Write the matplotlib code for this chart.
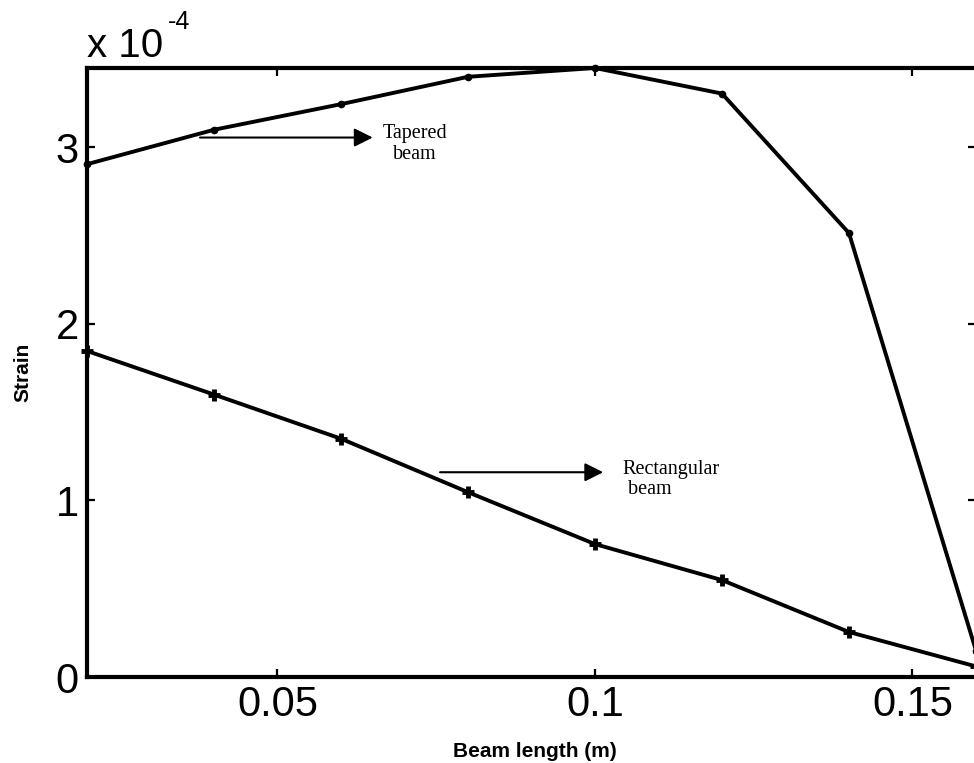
import numpy as np
import matplotlib
matplotlib.use('Agg')
from matplotlib import pyplot as plt

# beam positions (m)
beam_length = [0.02, 0.04, 0.06, 0.08, 0.10, 0.12, 0.14, 0.16]
# strain values in units of 1e-4
tapered = [2.905, 3.10, 3.245, 3.40, 3.45, 3.305, 2.515, 0.15]
rectangular = [1.847, 1.60, 1.35, 1.047, 0.753, 0.549, 0.255, 0.06]

xticks = [0.05, 0.1, 0.15]
xtick_labels = ['0.05', '0.1', '0.15']
yticks = [0, 1, 2, 3]

sans = 'Liberation Sans'
serif = 'Liberation Serif'

fig = plt.figure(figsize=(9.74, 7.63), dpi=100)
ax = fig.add_axes([0.0893, 0.1127, 0.9127, 0.7982])

ax.plot(beam_length, tapered, color='k', lw=2.8, marker='o', ms=4.5,
        clip_on=False)
ax.plot(beam_length, rectangular, color='k', lw=2.8, marker='+', ms=9,
        mew=3.5, clip_on=False)

ax.set_xlim(0.02, 0.16)
ax.set_ylim(0, 3.45)
ax.set_xticks(xticks)
ax.set_xticklabels(xtick_labels)
ax.set_yticks(yticks)

for s in ax.spines.values():
    s.set_linewidth(3)
ax.tick_params(direction='in', length=6, width=1.6, top=True, right=True,
               labelsize=30, pad=6)
for lab in ax.get_xticklabels() + ax.get_yticklabels():
    lab.set_fontfamily(sans)

# axis labels
ax.set_xlabel('Beam length (m)', fontsize=15, fontweight='bold', family=sans)
ax.xaxis.set_label_coords(0.504, -0.1215)
ax.xaxis.label.set_va('center')
ax.set_ylabel('Strain', fontsize=15, fontweight='bold', family=sans)
ax.yaxis.set_label_coords(-0.072, 0.5)
ax.yaxis.label.set_va('center')

# exponent label
fig.text(87 / 974, 1 - 57 / 763, 'x 10', fontsize=29, family=sans,
         ha='left', va='baseline')
fig.text(168 / 974, 1 - 29 / 763, '-4', fontsize=18, family=sans,
         ha='left', va='baseline')

# annotation arrows
arrow = dict(arrowstyle='-|>', lw=1.5, color='k', mutation_scale=28,
             shrinkA=0, shrinkB=0)
ax.annotate('', xy=(0.065, 3.056), xytext=(0.0378, 3.056), arrowprops=arrow)
ax.annotate('', xy=(0.1013, 1.16), xytext=(0.0756, 1.16), arrowprops=arrow)

ax.text(0.0666, 3.02, 'Tapered\nbeam', fontsize=14.5, family=serif,
        ha='left', va='center', multialignment='center', linespacing=1.1)
ax.text(0.1044, 1.12, 'Rectangular\n beam', fontsize=14.5, family=serif,
        ha='left', va='center', linespacing=1.1)

fig.savefig('out.png', dpi=100)
